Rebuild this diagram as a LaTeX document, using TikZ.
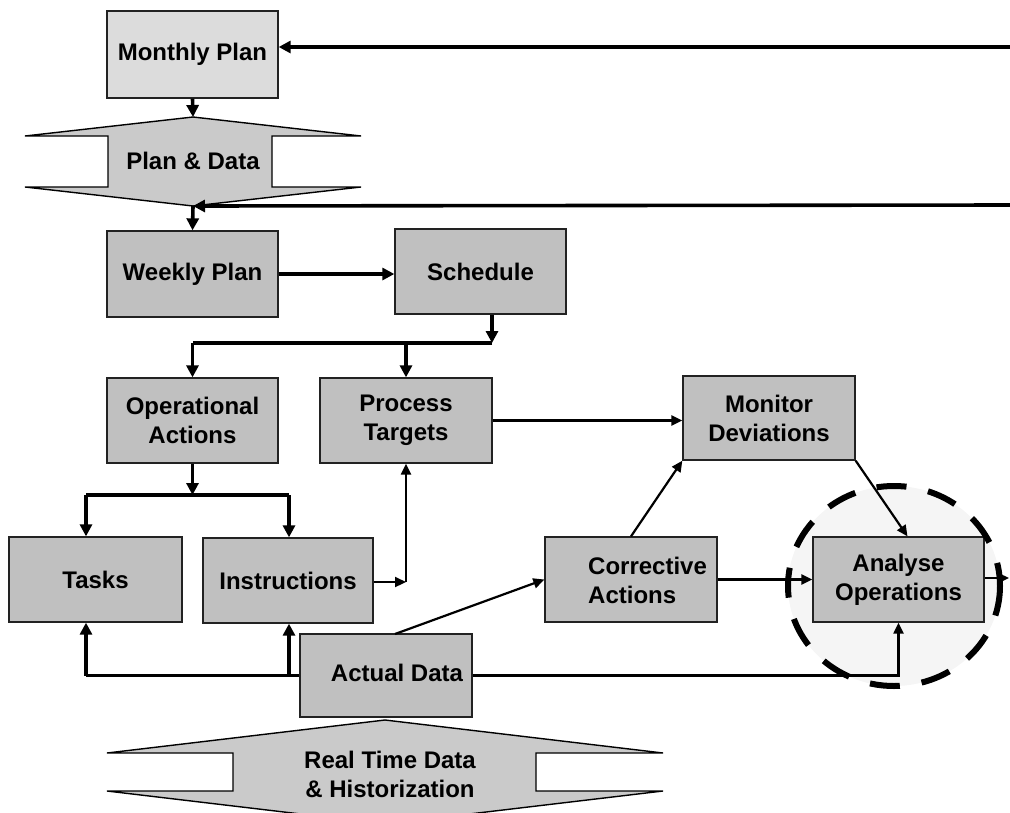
\documentclass[tikz,border=0pt]{standalone}
\usepackage{fontspec}
\setmainfont{Liberation Sans}
\usetikzlibrary{arrows.meta,calc}
\definecolor{boxfill}{HTML}{C0C0C0}
\definecolor{lightfill}{HTML}{DCDCDC}
\definecolor{bandfill}{HTML}{CACACA}
\definecolor{ringfill}{HTML}{F5F5F5}
\definecolor{edge}{HTML}{222222}
\tikzset{
  box/.style={draw=edge, line width=1.3pt, fill=boxfill, inner sep=0pt,
    minimum width=171pt, minimum height=85pt, align=center,
    font=\fontsize{24}{29}\selectfont\bfseries},
  lbl/.style={inner sep=0pt, font=\fontsize{24}{29}\selectfont\bfseries},
  band/.style={draw=black, line width=1.4pt, fill=bandfill},
  heavy/.style={line width=3.6pt, -{Triangle[length=12pt,width=12pt]}},
  heavyline/.style={line width=3.6pt},
  light/.style={line width=2.2pt, -{Triangle[length=11pt,width=10pt]}},
  lightline/.style={line width=2.2pt},
}
\begin{document}
\begin{tikzpicture}[x=1pt,y=-1pt]
\useasboundingbox (0,0) rectangle (1010,812);

% dashed ring behind Analyse Operations
\fill[ringfill] (894,586) ellipse [x radius=106, y radius=100];

% bands
\draw[band] (25,136) -- (108,136) -- (108,187) -- (25,187) -- (193,206) -- (361,187)
  -- (272,187) -- (272,136) -- (361,136) -- (193,117) -- cycle;
\node[lbl] (pdtext) at (193,161) {Plan \& Data};
\coordinate (pdtop) at (193,117);
\coordinate (pdbot) at (193,206);

\draw[band] (107,753) -- (233,753) -- (233,791) -- (107,791) -- (385,824) -- (663,791)
  -- (536,791) -- (536,753) -- (663,753) -- (385,720) -- cycle;
\node[lbl, align=center] (rtd) at (390,774) {Real Time Data\\\& Historization};

% boxes
\node[box, fill=lightfill, minimum height=87pt] (monthly) at (192.5,54.5) {Monthly Plan};
\node[box, minimum height=86pt] (weekly) at (192.5,274) {Weekly Plan};
\node[box] (schedule) at (480.5,271.5) {Schedule};
\node[box] (ops) at (192.5,420.5) {Operational\\Actions};
\node[box, minimum width=172pt] (pt) at (406,420.5) {Process\\Targets};
\node[box, minimum width=173pt] (tasks) at (95.5,579.5) {Tasks};
\node[box, minimum width=170pt] (instr) at (288,580.5) {Instructions};
\node[box, minimum width=172pt, minimum height=83pt] (actual) at (386,675.5) {};
\node[lbl] (actualT) at (397,673) {Actual Data};
\node[box, minimum width=172pt] (corr) at (631,579.5) {};
\node[lbl, align=left, anchor=west] (corrT) at (588,580) {Corrective\\Actions};
\node[box, minimum width=172pt, minimum height=84pt] (monitor) at (769,418) {Monitor\\Deviations};
\node[box] (analyse) at (898.5,579.5) {Analyse\\Operations};

% free ends
\coordinate (in1) at (1010,47);
\coordinate (in2) at (1010,205);
\coordinate (sj) at (492,343);
\coordinate (oj) at (192.5,495);
\coordinate (tj) at (86,495);
\coordinate (ij) at (289,495);
\coordinate (ipc) at (406,582);
\coordinate (aj) at (86,675.5);
\coordinate (aij) at (289,675.5);
\coordinate (aout) at (395,634);
\coordinate (out) at (1009,578);

% connectors
\draw[heavy] (in1) -- (in1 -| monthly.east);
\draw[heavy] (in2) -- (pdbot);
\draw[heavy] (monthly.south) -- (pdtop);
\draw[heavy] (pdbot) -- (weekly.north);
\draw[heavy] (weekly.east) -- (weekly.east -| schedule.west);
\draw[heavy] (sj |- schedule.south) -- (sj);
\draw[heavyline] (sj) -- (sj -| ops.north);
\draw[heavy] (sj -| ops.north) -- (ops.north);
\draw[heavy] (sj -| pt.north) -- (pt.north);
\draw[heavy] (ops.south) -- (oj);
\draw[heavyline] (tj) -- (ij);
\draw[heavy] (tj) -- (tj |- tasks.north);
\draw[heavy] (ij) -- (ij |- instr.north);
\draw[light] (instr.east |- ipc) -- (ipc);
\draw[light] (ipc) -- (pt.south);
\draw[heavyline] (actual.west) -- (aj);
\draw[heavy] (aj) -- (aj |- tasks.south);
\draw[heavy] (aij) -- (aij |- instr.south);
\draw[light] (aout) -- (corr.west);
\draw[light] (actual.east) -| (analyse.south);
\draw[light] (pt.east) -- (pt.east -| monitor.west);
\draw[light] (corr.north) -- (monitor.south west);
\draw[light] (corr.east) -- (corr.east -| analyse.west);
\draw[light] (monitor.south east) -- ($(analyse.north)+(9,0)$);
\draw[light] (analyse.east |- out) -- (out);

% dashed ring outline
\draw[line width=6pt, dash pattern=on 30pt off 22pt] (894,586) ellipse [x radius=106, y radius=100];
\end{tikzpicture}
\end{document}
